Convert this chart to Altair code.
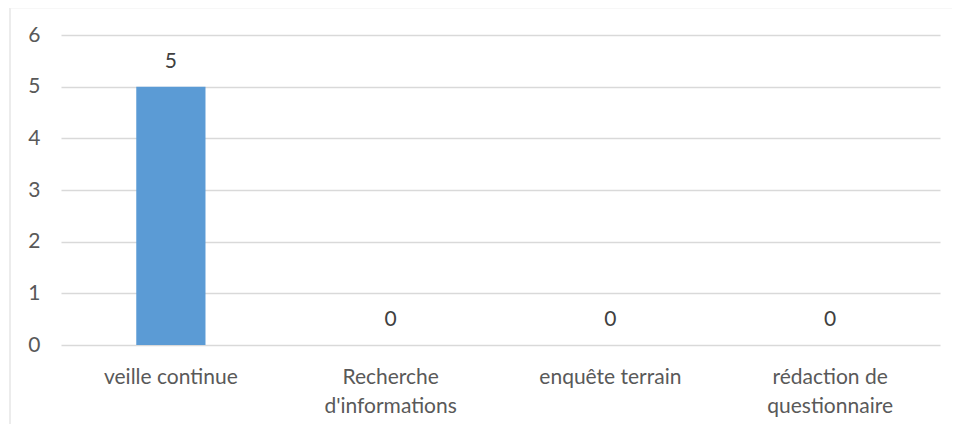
import altair as alt
import pandas as pd

categories = ["veille continue", "Recherche\nd'informations", "enquête terrain", "rédaction de\nquestionnaire"]
values = [5, 0, 0, 0]

df = pd.DataFrame({"cat": categories, "val": values})

FONT = "Lato"
TXT = "#595959"
FS = 21

x_enc = alt.X("cat:N", sort=categories, title=None,
              scale=alt.Scale(paddingInner=0.685, paddingOuter=0.3425),
              axis=alt.Axis(labelExpr="split(datum.label, '\\n')", labelAngle=0,
                            labelFont=FONT, labelFontSize=FS, labelColor=TXT,
                            labelPadding=21, labelLineHeight=29, ticks=False,
                            domain=False, grid=False))
y_enc = alt.Y("val:Q", title=None,
              scale=alt.Scale(domain=[0, 6], nice=False),
              axis=alt.Axis(values=[0, 1, 2, 3, 4, 5, 6], format="d",
                            labelFont=FONT, labelFontSize=FS, labelColor=TXT,
                            labelPadding=21, ticks=False, domain=False,
                            gridColor="#d9d9d9", gridWidth=1.5))

base = alt.Chart(df)
bars = base.mark_bar(color="#5b9bd5").encode(x=x_enc, y=y_enc)
labels = base.mark_text(dy=-25, font=FONT, fontSize=FS, color="#404040").encode(
    x=alt.X("cat:N", sort=categories), y="val:Q", text="val:Q")

left_border = alt.Chart(pd.DataFrame({"a": [0]})).mark_rule(color="#d9d9d9", strokeWidth=1).encode(
    x=alt.value(-51), y=alt.value(-27), y2=alt.value(400))
top_border = alt.Chart(pd.DataFrame({"a": [0]})).mark_rule(color="#f0f0f0", strokeWidth=1).encode(
    x=alt.value(-51), x2=alt.value(892), y=alt.value(-27))

chart = alt.layer(bars, labels, left_border, top_border).properties(
    width=879, height=310,
    autosize=alt.AutoSizeParams(type="none"),
    padding={"left": 53, "top": 27, "right": 12, "bottom": 79},
).configure_view(stroke=None)

chart.save("out.html", embed_options={"renderer": "svg", "actions": False})
